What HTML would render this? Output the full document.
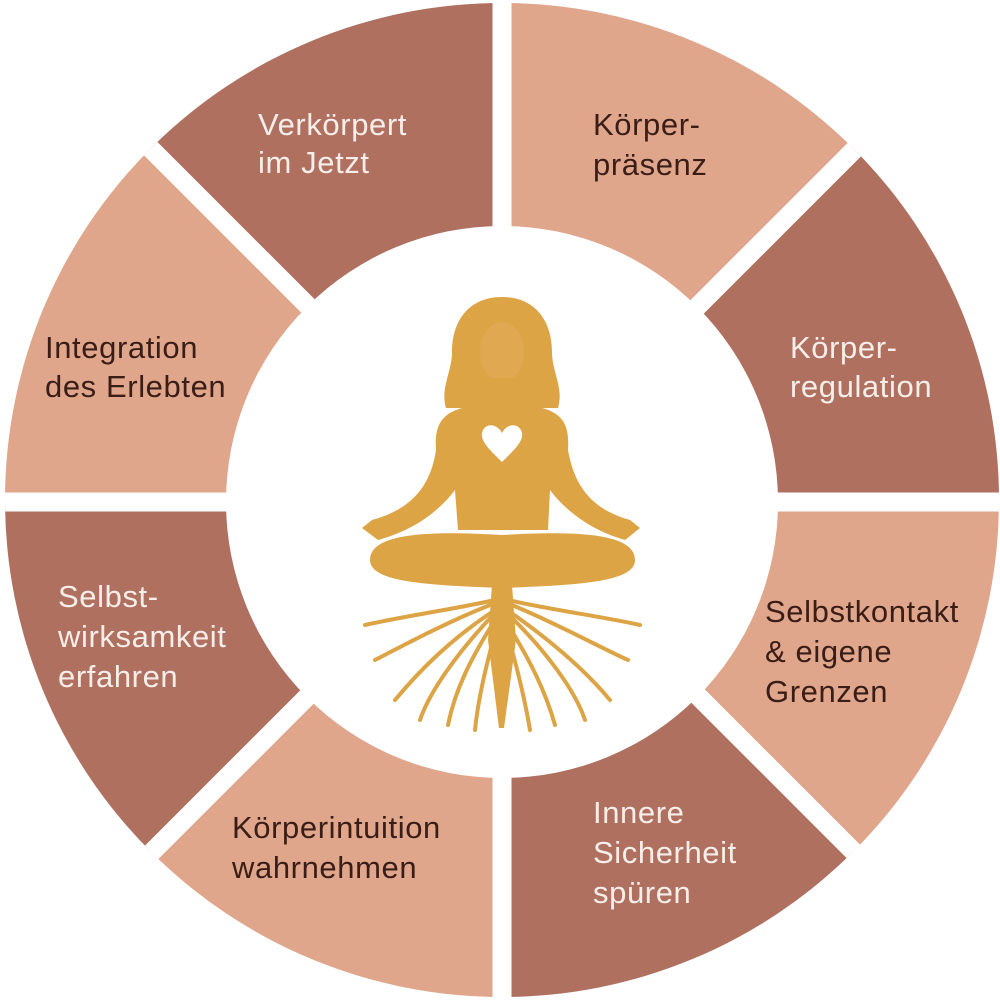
<!DOCTYPE html>
<html><head><meta charset="utf-8"><style>
html,body{margin:0;padding:0;background:#fff;width:1000px;height:1000px;overflow:hidden}
svg{display:block}
text{font-family:"Liberation Sans",sans-serif;font-size:31px;letter-spacing:0.6px}
.d{fill:#3a1d16}.w{fill:#f7eeea}
</style></head><body>
<svg width="1000" height="1000" viewBox="0 0 1000 1000">
<defs><clipPath id="c"><circle cx="502" cy="500" r="497"/></clipPath></defs>
<g clip-path="url(#c)">
<polygon points="502,500 502,0 1000,0" fill="#e0a68c"/>
<polygon points="502,500 1000,0 1000,500" fill="#b07060"/>
<polygon points="502,500 1000,500 1000,1000" fill="#e0a68c"/>
<polygon points="502,500 1000,1000 502,1000" fill="#b07060"/>
<polygon points="502,500 502,1000 2,1000" fill="#e0a68c"/>
<polygon points="502,500 2,1000 0,1000 0,500" fill="#b07060"/>
<polygon points="502,500 0,500 0,0 2,0" fill="#e0a68c"/>
<polygon points="502,500 2,0 502,0" fill="#b07060"/>
<g stroke="#fff" stroke-width="19">
<line x1="502" y1="0" x2="502" y2="1000"/>
<line x1="0" y1="502" x2="1000" y2="502"/>
<line x1="2" y1="0" x2="1000" y2="998"/>
<line x1="1000" y1="4" x2="4" y2="1000"/>
</g>
</g>
<circle cx="502" cy="502" r="276" fill="#fff"/>
<!-- figure -->
<g fill="#dca445">
<path d="M502,297 C468,297 452,322 452,352 C452,372 440,388 446,408 L558,408 C564,388 552,372 552,352 C552,322 536,297 502,297Z"/>
<ellipse cx="502" cy="352" rx="22" ry="30" fill="#e0a850"/>
<path d="M480,378 L525,378 L528,405 C560,410 570,420 568,450 C575,490 595,510 630,520 L640,528 L625,540 C590,530 565,510 550,490 L548,530 L458,530 L455,490 C440,510 415,530 378,540 L362,528 L372,520 C408,510 430,490 436,450 C434,420 445,410 476,405Z"/>
<path d="M370,560 C370,535 420,530 502,535 C585,530 635,535 635,560 C635,582 580,585 502,588 C425,585 370,582 370,560Z"/>
<path d="M492,585 L512,585 L516,640 L504,728 L499,728 L488,640Z"/>
<g stroke="#dca445" stroke-width="4" fill="none" stroke-linecap="round">
<path d="M495,600 C450,610 410,615 365,625"/>
<path d="M508,600 C550,610 595,615 640,625"/>
<path d="M492,612 C450,640 420,670 395,700"/>
<path d="M510,612 C550,640 585,670 610,700"/>
<path d="M495,620 C470,660 455,690 448,725"/>
<path d="M505,620 C530,660 545,690 555,725"/>
<path d="M490,605 C440,625 395,650 375,660"/>
<path d="M512,605 C560,625 605,650 628,660"/>
<path d="M497,625 C485,670 478,700 475,730"/>
<path d="M505,625 C518,670 525,700 530,730"/>
<path d="M493,615 C460,650 430,690 420,720"/>
<path d="M509,615 C545,650 575,690 585,720"/>
</g>
</g>
<path d="M502,462 C490,450 478,440 483,430 C488,422 498,425 502,433 C506,425 516,422 521,430 C526,440 514,450 502,462Z" fill="#fff"/>
<!-- labels -->
<text class="w" x="258" y="135">Verkörpert</text><text class="w" x="258" y="173">im Jetzt</text>
<text class="d" x="593" y="135">Körper-</text><text class="d" x="593" y="175">präsenz</text>
<text class="w" x="790" y="358">Körper-</text><text class="w" x="790" y="397">regulation</text>
<text class="d" x="765" y="622">Selbstkontakt</text><text class="d" x="765" y="662">&amp; eigene</text><text class="d" x="765" y="702">Grenzen</text>
<text class="w" x="593" y="823">Innere</text><text class="w" x="593" y="863">Sicherheit</text><text class="w" x="593" y="903">spüren</text>
<text class="d" x="232" y="838">Körperintuition</text><text class="d" x="232" y="878">wahrnehmen</text>
<text class="w" x="58" y="607">Selbst-</text><text class="w" x="58" y="647">wirksamkeit</text><text class="w" x="58" y="687">erfahren</text>
<text class="d" x="45" y="358">Integration</text><text class="d" x="45" y="397">des Erlebten</text>
</svg>
</body></html>
